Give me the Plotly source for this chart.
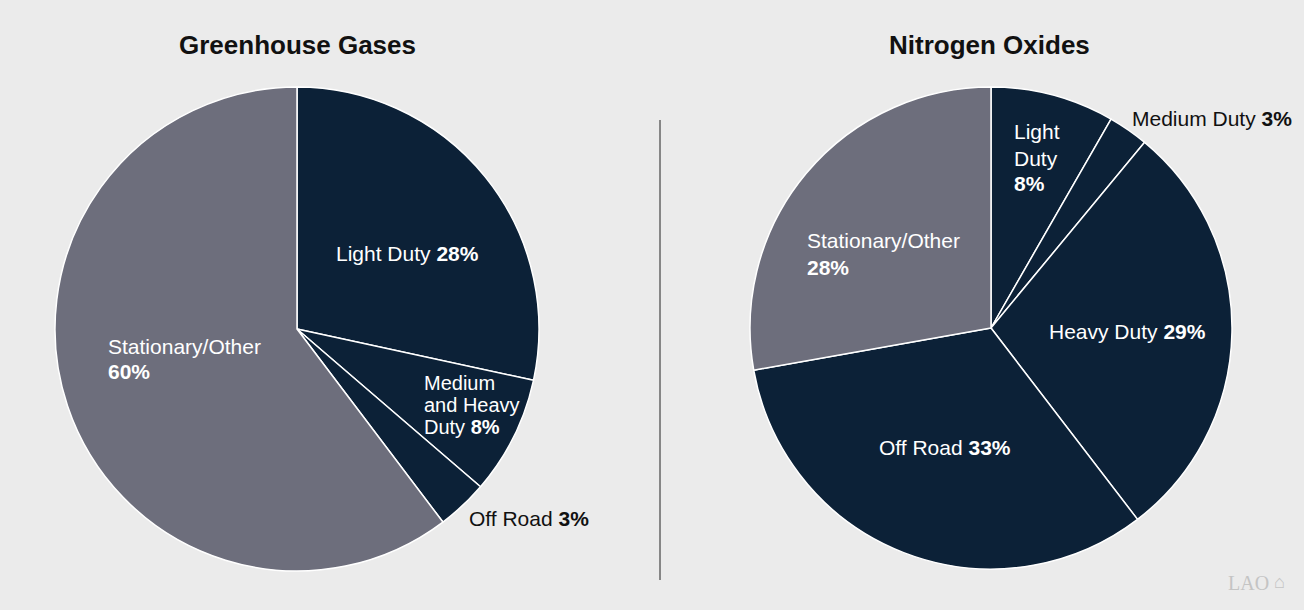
import plotly.graph_objects as go

# ===========================
# DATA
# ===========================

ghg_labels = ["Light Duty", "Medium and Heavy Duty", "Off Road", "Stationary/Other"]
ghg_values = [28.4, 7.9, 3.4, 60.3]
ghg_text = ["28%", "8%", "3%", "60%"]

nox_labels = ["Light Duty", "Medium Duty", "Heavy Duty", "Off Road", "Stationary/Other"]
nox_values = [8.3, 2.7, 28.6, 32.6, 27.8]
nox_text = ["8%", "3%", "29%", "33%", "28%"]

NAVY = "#0c2137"
GRAY = "#6d6e7c"
BG = "#ebebeb"
DARK = "#111111"
W, H = 1304, 610

ghg_colors = [NAVY, NAVY, NAVY, GRAY]
nox_colors = [NAVY, NAVY, NAVY, NAVY, GRAY]


def px_x(x):
    return x / W


def px_y(y):
    return 1 - y / H


fig = go.Figure()

fig.add_trace(go.Pie(
    labels=ghg_labels, values=ghg_values, sort=False, direction="clockwise",
    rotation=0, textinfo="none", hoverinfo="label+percent",
    marker=dict(colors=ghg_colors, line=dict(color="white", width=1.5)),
    domain=dict(x=[px_x(55), px_x(539)], y=[px_y(571), px_y(87)]),
    showlegend=False,
))

fig.add_trace(go.Pie(
    labels=nox_labels, values=nox_values, sort=False, direction="clockwise",
    rotation=0, textinfo="none", hoverinfo="label+percent",
    marker=dict(colors=nox_colors, line=dict(color="white", width=1.5)),
    domain=dict(x=[px_x(750), px_x(1232)], y=[px_y(569), px_y(87)]),
    showlegend=False,
))

# titres
for name, cx in [("Greenhouse Gases", 297), ("Nitrogen Oxides", 990)]:
    fig.add_annotation(text=f"<b>{name}</b>", x=px_x(cx), y=px_y(45),
                       xref="paper", yref="paper", showarrow=False,
                       xanchor="center", yanchor="middle",
                       font=dict(size=26, color=DARK))

# étiquettes : une ligne par annotation (texte, x, y, couleur, taille)
lines = [
    (f"Light Duty <b>{ghg_text[0]}</b>", 334, 254, "white", 21),
    ("Medium", 422, 383, "white", 20),
    ("and Heavy", 422, 405, "white", 20),
    (f"Duty <b>{ghg_text[1]}</b>", 422, 427, "white", 20),
    (f"Off Road <b>{ghg_text[2]}</b>", 467, 518, DARK, 21),
    ("Stationary/Other", 106, 346, "white", 21),
    (f"<b>{ghg_text[3]}</b>", 106, 371, "white", 21),
    ("Light", 1012, 132, "white", 21),
    ("Duty", 1012, 158, "white", 21),
    (f"<b>{nox_text[0]}</b>", 1012, 183, "white", 21),
    (f"Medium Duty <b>{nox_text[1]}</b>", 1130, 118, DARK, 21),
    (f"Heavy Duty <b>{nox_text[2]}</b>", 1047, 331, "white", 21),
    (f"Off Road <b>{nox_text[3]}</b>", 877, 447, "white", 21),
    ("Stationary/Other", 805, 241, "white", 21),
    (f"<b>{nox_text[4]}</b>", 805, 267, "white", 21),
]
for txt, x, y, col, size in lines:
    fig.add_annotation(text=txt, x=px_x(x), y=px_y(y),
                       xref="paper", yref="paper", showarrow=False,
                       xanchor="left", yanchor="middle", align="left",
                       font=dict(size=size, color=col))

# séparateur
fig.add_shape(type="line", xref="paper", yref="paper",
              x0=px_x(660), x1=px_x(660), y0=px_y(120), y1=px_y(580),
              line=dict(color="#222222", width=1))

# logo
fig.add_annotation(text="LAO", x=px_x(1271), y=px_y(583), xref="paper", yref="paper",
                   showarrow=False, xanchor="right", yanchor="middle",
                   font=dict(size=20, color="#c4c4c4", family="Liberation Serif"))
fig.add_annotation(text="⌂", x=px_x(1272), y=px_y(582), xref="paper", yref="paper",
                   showarrow=False, xanchor="left", yanchor="middle",
                   font=dict(size=18, color="#c4c4c4"))

fig.update_layout(
    width=W, height=H,
    paper_bgcolor=BG, plot_bgcolor=BG,
    margin=dict(l=0, r=0, t=0, b=0),
    font=dict(family="Liberation Sans, Arial, sans-serif", color=DARK),
)

fig.write_html("out.html", config={"displayModeBar": False},
               post_script="document.body.style.margin='0';")
